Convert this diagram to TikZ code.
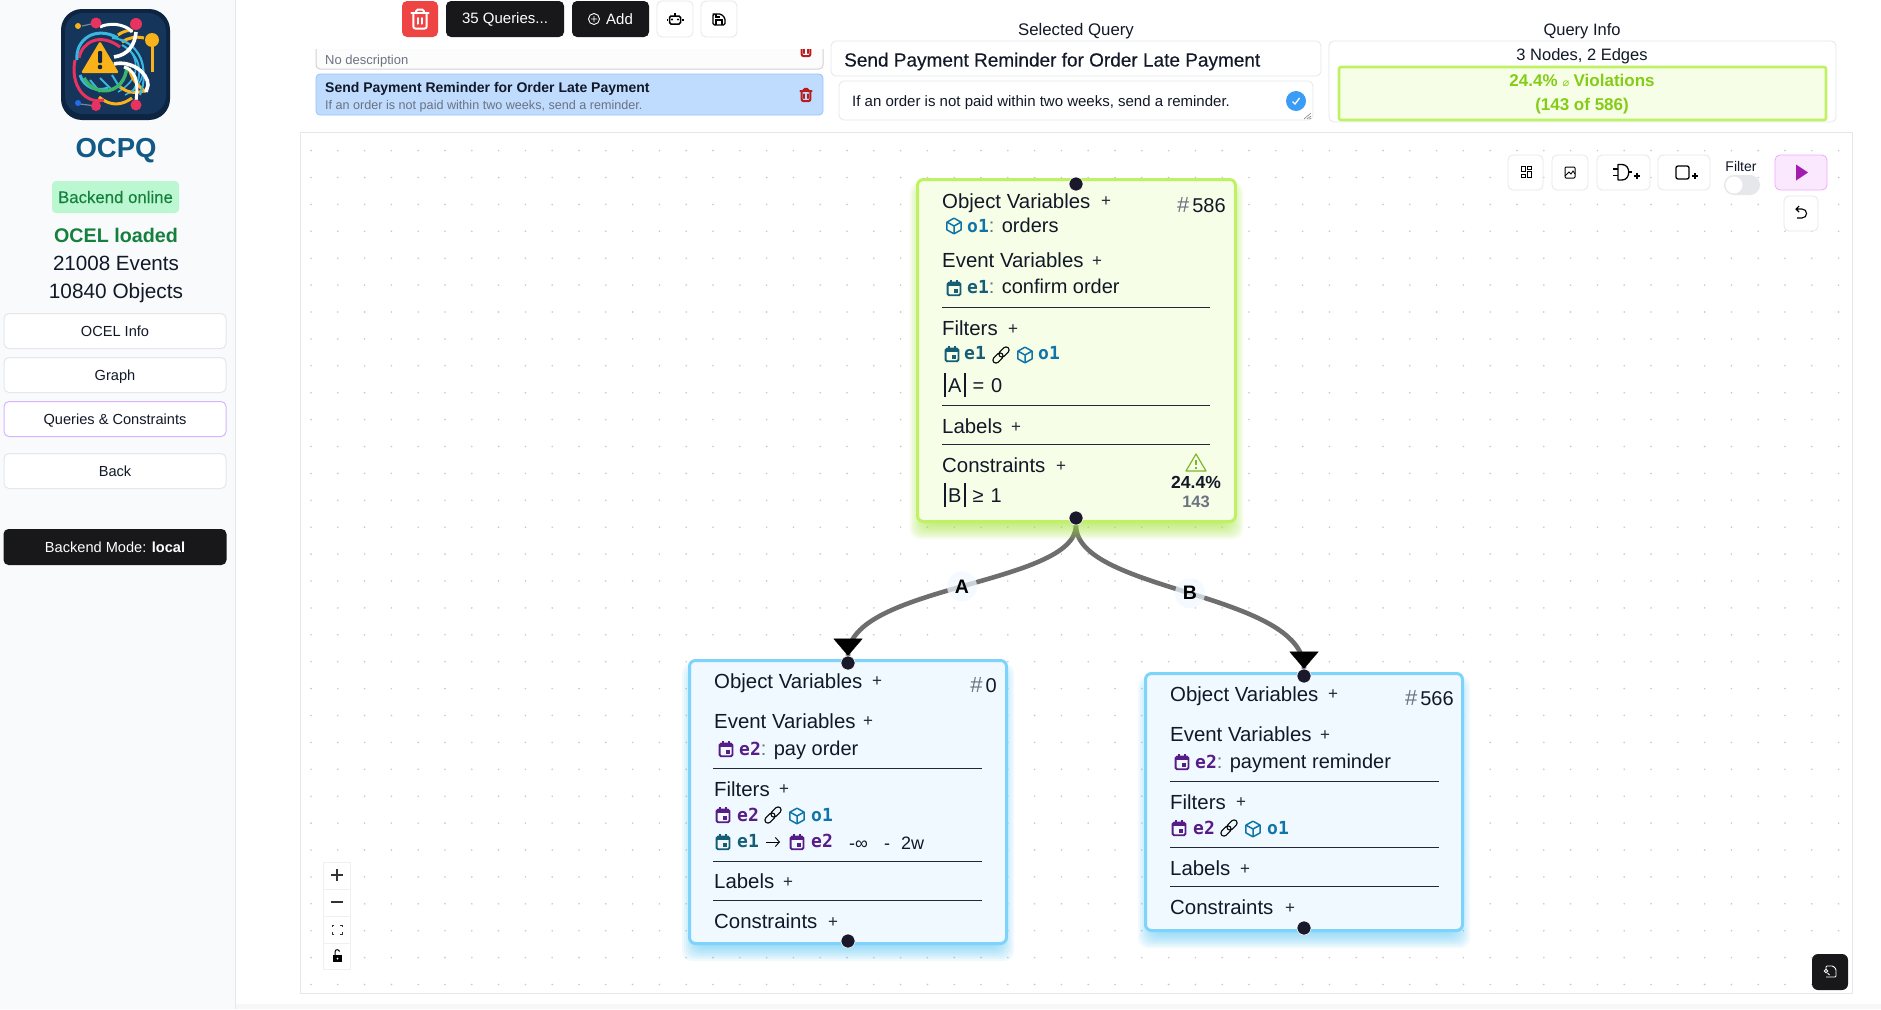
\documentclass[tikz,border=0pt]{standalone}
\usepackage{fontspec}
\setmainfont{Liberation Sans}
\newfontfamily\monof{DejaVu Sans Mono}
\newfontfamily\dejav{DejaVu Sans}
\newfontfamily\medf{Liberation Sans}[FakeBold=0.25]
\usetikzlibrary{arrows.meta}
\definecolor{ink}{HTML}{111827}
\definecolor{sidebg}{HTML}{F8FAFC}
\definecolor{rulec}{HTML}{E5E7EB}
\definecolor{dark}{HTML}{18181B}
\definecolor{greenT}{HTML}{15803D}
\definecolor{greenB}{HTML}{BBF7D0}
\definecolor{limeB}{HTML}{BEF264}
\definecolor{limeS}{HTML}{A3E635}
\definecolor{limeF}{HTML}{F7FEE7}
\definecolor{limeT}{HTML}{84CC16}
\definecolor{skyB}{HTML}{7DD3FC}
\definecolor{skyF}{HTML}{F0F9FF}
\definecolor{skyS}{HTML}{38BDF8}
\definecolor{oC}{HTML}{0F75A8}
\definecolor{eA}{HTML}{155E75}
\definecolor{eB}{HTML}{581C87}
\definecolor{handlec}{HTML}{1A192B}
\definecolor{edgec}{HTML}{6E6E6E}
\definecolor{grayT}{HTML}{6B7280}
\definecolor{sepc}{HTML}{1F2937}
\definecolor{dotc}{HTML}{C8C8C8}
\definecolor{navy}{HTML}{15365A}
\definecolor{navyD}{HTML}{0D2540}
\definecolor{pinkL}{HTML}{E8325F}
\definecolor{goldL}{HTML}{F9B21A}
\definecolor{cyanL}{HTML}{3BB6E0}
\definecolor{greenL}{HTML}{3BB56C}
\definecolor{selF}{HTML}{BFDBFE}
\definecolor{selB}{HTML}{93C5FD}
\definecolor{purB}{HTML}{D8B4FE}
\definecolor{playF}{HTML}{FAE8FF}
\definecolor{playB}{HTML}{F0ABFC}
\definecolor{playC}{HTML}{A21CAF}
\definecolor{redB}{HTML}{EF4444}
\definecolor{redT}{HTML}{B91C1C}
\definecolor{chkC}{HTML}{3B9CF5}
\newcommand\fsz[1]{\fontsize{#1}{#1}\selectfont}
\newcommand\bbar{\rule[-5pt]{1.5pt}{24pt}}
\newcommand\mv[2]{{\fsz{18}\monof\bfseries\color{#1}#2}}
\newcommand\hashn{{\fsz{22}\color{grayT}\#}\hspace{3pt}}
\pgfdeclarelayer{gridl}\pgfdeclarelayer{edgel}\pgfdeclarelayer{shadl}
\pgfsetlayers{gridl,edgel,shadl,main}
\tikzset{
  tl/.style={inner sep=0,anchor=base west,text=ink},
  tc/.style={inner sep=0,anchor=base,text=ink},
  hd/.style={tl,font=\fsz{20.4}},
  itm/.style={tl,font=\fsz{20}},
  mono/.style={tl,font=\fsz{18}},
  plusn/.style={inner sep=0,anchor=center,text=sepc,font=\fsz{17}},
  sidebtn/.style={draw=rulec,line width=1pt,fill=white,rounded corners=5pt,minimum width=222pt,minimum height=35pt,inner sep=0,font=\fsz{14.6},text=ink,text height=10.5pt,text depth=0pt},
  darkbtn/.style={fill=dark,rounded corners=5pt,inner sep=0,text=white,font=\fsz{15}},
  lightbtn/.style={draw=rulec,line width=.8pt,fill=white,rounded corners=5pt,inner sep=0},
  handle/.style={circle,fill=handlec,draw=white,line width=.6pt,minimum size=14pt,inner sep=0},
  limebox/.style={draw=limeB,line width=3pt,fill=limeF,rounded corners=6pt,minimum width=318pt,inner sep=0},
  skybox/.style={draw=skyB,line width=3pt,fill=skyF,rounded corners=6pt,minimum width=317pt,inner sep=0},
  sep/.style={draw=sepc,line width=.9pt},
  edgeline/.style={draw=edgec,line width=4.6pt},
  edgetip/.style={draw=black,line width=.1pt,-{Triangle[width=29pt,length=17pt,color=black]}},
  edgelabel/.style={circle,fill=skyF,fill opacity=.72,text opacity=1,inner sep=0,minimum size=30pt,text=black,font=\fsz{19.5}\bfseries},
  pics/cube/.style={code={\begin{scope}[shift={(-12,-12)}]
    \draw[#1,line width=1.5pt,line join=round] (12,2)--(21,7)--(21,17)--(12,22)--(3,17)--(3,7)--cycle;
    \draw[#1,line width=1.5pt,line join=round] (3,7)--(12,12)--(21,7) (12,12)--(12,22);\end{scope}}},
  pics/cal/.style={code={\begin{scope}[shift={(-12,-12)}]
    \draw[#1,line width=1.9pt,rounded corners=1.5pt] (3.5,5)rectangle(20.5,21.5);
    \fill[#1] (3.5,5)rectangle(20.5,9.5);
    \draw[#1,line width=1.9pt] (7.5,1.5)--(7.5,5) (16.5,1.5)--(16.5,5);
    \fill[#1] (12.5,13.5)rectangle(17.5,18);\end{scope}}},
  pics/linkic/.style={code={
    \draw[black,line width=1.1pt,rounded corners=3pt,rotate around={45:(0,0)}] (-12,-3.6)rectangle(2,3.6);
    \draw[black,line width=1.1pt,rounded corners=3pt,rotate around={45:(0,0)}] (-2,-3.6)rectangle(12,3.6);}},
  pics/trash/.style={code={
    \draw[#1,line width=2pt,line cap=round,line join=round] (-9,-6)--(9,-6);
    \draw[#1,line width=2pt,line cap=round,rounded corners=2pt] (-7,-6)--(-7,10)--(7,10)--(7,-6);
    \draw[#1,line width=2pt,line cap=round,rounded corners=1.5pt] (-4,-6)--(-4,-10)--(4,-10)--(4,-6);
    \draw[#1,line width=2pt,line cap=round] (-2.5,-1)--(-2.5,5) (2.5,-1)--(2.5,5);}},
}
\begin{document}
\begin{tikzpicture}[x=1pt,y=-1pt]
\useasboundingbox (0,0) rectangle (1881,1009);
\begin{pgfonlayer}{gridl}
\fill[white] (0,0) rectangle (1881,1009);
\foreach \i in {0,...,57}{\foreach \j in {0,...,31}{
  \fill[dotc] ({311+26.8*\i},{850-26.9*\j+26.9*5}) circle (.9);
}}
\fill[white] (300,994) rectangle (1881,1003) (1853,130) rectangle (1881,1000) (236,122) rectangle (1881,131);
\fill[gray!6] (236,1004) rectangle (1881,1009);
\end{pgfonlayer}
\fill[sidebg] (0,0) rectangle (235,1009);
\draw[rulec,line width=1pt] (235,0)--(235,1009);

% ---------- logo
\fill[navyD] (61,9) [rounded corners=21pt] rectangle (170,120);
\fill[navy] (65,13) [rounded corners=18pt] rectangle (166,114);
\begin{scope}
  \clip (72,18) rectangle (160,112);
  \draw[cyanL,line width=1.5pt] (120,40) .. controls (150,50) and (150,85) .. (125,95);
  \draw[cyanL,line width=1.5pt] (130,50) .. controls (140,65) and (138,80) .. (118,92);
  \draw[goldL,line width=3pt] (99,97) .. controls (112,108) and (124,104) .. (132,98);
  \draw[goldL,line width=3pt] (118,35) .. controls (125,30) and (130,30) .. (133,31);
  \draw[goldL,line width=3pt] (122,42) .. controls (128,38) and (135,36) .. (144,38);
  \draw[goldL,line width=3pt] (118,85) .. controls (125,92) and (135,95) .. (146,90);
  \draw[goldL,line width=3pt] (129,68) .. controls (132,80) and (138,86) .. (146,92);
  \draw[goldL,line width=3pt] (152,42)--(152,72);
  \draw[cyanL,line width=2pt] (112,38) .. controls (140,40) and (150,70) .. (140,95);
  \draw[cyanL,line width=2pt] (122,45) .. controls (140,55) and (145,75) .. (132,92);
  \draw[cyanL,line width=2pt] (90,80) -- (100,92) (100,78)--(112,90) (112,75)--(120,88);
  \draw[pinkL,line width=3pt] (75,60) .. controls (70,85) and (85,105) .. (104,100);
  \draw[pinkL,line width=3pt] (79,58) .. controls (82,42) and (100,32) .. (120,47);
  \draw[cyanL,line width=3pt] (77,60) .. controls (75,40) and (95,25) .. (118,38);
  \draw[cyanL,line width=3pt] (80,75) .. controls (84,88) and (98,92) .. (108,88);
  \draw[greenL,line width=3.4pt] (84,78) .. controls (95,98) and (125,95) .. (127,66);
  \draw[white,line width=3pt] (100,27) .. controls (115,20) and (130,28) .. (132,32);
  \draw[white,line width=3.6pt] (114,57) .. controls (128,55) and (135,45) .. (136,32);
  \draw[white,line width=3.6pt] (114,64) .. controls (130,60) and (148,72) .. (148,85) -- (146,92);
  \draw[white,line width=3pt] (124,67) .. controls (140,72) and (137,90) .. (136,102);
\end{scope}
\fill[goldL,rounded corners=1.5pt] (81,73)--(119,73)--(100,41)--cycle;
\fill[navyD,rounded corners=1pt] (98,51) rectangle (102,63);
\fill[navyD] (100,67) circle (2.3);
\draw[navy!60!white,line width=1.2pt] (82,26)--(96,23) (80,104)--(96,106);
\fill[pinkL] (96,23) circle (5.5) (136,24) circle (6) (96,106) circle (5) (136,105) circle (5.5);
\fill[goldL] (78,26) circle (3) (152,40) circle (7);
\fill[cyanL!60!blue] (78,103) circle (3);

% ---------- sidebar
\node[inner sep=0,anchor=base,text=oC!55!navy,font=\fsz{27.5}\bfseries] (title) at (116,157) {OCPQ};
\node[fill=greenB,rounded corners=4pt,inner sep=0,minimum width=127pt,minimum height=32pt,text=greenT,font=\medf\fsz{16.8}] (online) at (115.5,197) {Backend online};
\node[tc,font=\fsz{19.7}\bfseries,text=greenT] (loaded) at (116,242) {OCEL loaded};
\node[tc,font=\fsz{20.6}] (events) at (116,270) {21008 Events};
\node[tc,font=\fsz{20.8}] (objects) at (116,298) {10840 Objects};
\node[sidebtn] (b1) at (115,331) {OCEL Info};
\node[sidebtn] (b2) at (115,375) {Graph};
\node[sidebtn,draw=purB] (b3) at (115,419) {Queries \& Constraints};
\node[sidebtn] (b4) at (115,471) {Back};
\node[darkbtn,minimum width=223pt,minimum height=36pt,font=\fsz{14.6}] (b5) at (115,547) {Backend Mode: \textbf{local}};

% ---------- top bar
\node[fill=redB,rounded corners=5pt,minimum width=36pt,minimum height=36pt,inner sep=0] (tdel) at (420,19) {};
\pic[scale=.95] at (tdel.center) {trash=white};
\node[darkbtn,minimum width=118pt,minimum height=36pt] (tq) at (505,19) {35 Queries...};
\node[darkbtn,minimum width=77pt,minimum height=36pt] (tadd) at (610.5,19) {\hspace*{18pt}Add};
\draw[white,line width=.9pt] (594,19) circle (5.5) (591,19)--(597,19) (594,16)--(594,22);
\node[lightbtn,minimum width=36pt,minimum height=36pt] (trob) at (675,19) {};
\draw[black,line width=1.5pt,rounded corners=1.5pt] (669.5,16) rectangle (680.5,24);
\draw[black,line width=1.3pt] (675,16)--(675,13) (668,20)--(666.5,20) (682,20)--(683.5,20);
\fill[black] (672,19.5) circle (1.1) (678,19.5) circle (1.1);
\node[lightbtn,minimum width=36pt,minimum height=36pt] (tsave) at (719,19) {};
\draw[black,line width=1.3pt,rounded corners=1.5pt] (714,14)--(721,14)--(725,18)--(725,25)--(713,25)--(713,14)--cycle;
\draw[black,line width=1.3pt] (716,25)--(716,20)--(722,20)--(722,25) (716,14)--(716,17)--(720,17);

% query list
\begin{scope}
\clip (300,49) rectangle (830,120);
\node[draw=gray!35,line width=1pt,fill=gray!2,rounded corners=4pt,minimum width=507pt,minimum height=40pt,inner sep=0] (q1) at (569.5,49) {};
\pic[scale=.62] at (806,50) {trash=redT};
\end{scope}
\node[tl,font=\fsz{13},text=grayT] (q1d) at (325,64) {No description};
\node[draw=selB,line width=.8pt,fill=selF,rounded corners=4pt,minimum width=507pt,minimum height=41pt,inner sep=0] (q2) at (569.5,94.5) {};
\node[tl,font=\fsz{14}\bfseries] (q2t) at (325,92) {Send Payment Reminder for Order Late Payment};
\node[tl,font=\fsz{12.6},text=grayT] (q2d) at (325,109.5) {If an order is not paid within two weeks, send a reminder.};
\pic[scale=.62] at (806,95) {trash=redT};

% selected query
\node[tc,font=\fsz{16.8}] (sq) at (1076,35) {Selected Query};
\node[draw=rulec,line width=.8pt,fill=white,rounded corners=5pt,minimum width=490pt,minimum height=35pt,inner sep=0] (sqt) at (1076,58.5) {};
\node[tl,font=\medf\fsz{19}] (sqtt) at (844,66.5) {Send Payment Reminder for Order Late Payment};
\node[draw=rulec,line width=.8pt,fill=white,rounded corners=5pt,minimum width=474pt,minimum height=39pt,inner sep=0] (sqd) at (1076,100.5) {};
\node[tl,font=\fsz{15}] (sqdt) at (852,106) {If an order is not paid within two weeks, send a reminder.};
\node[circle,fill=chkC,minimum size=20pt,inner sep=0] (chk) at (1296,101) {};
\draw[white,line width=1.3pt] (1292.5,101.5)--(1295,104)--(1299.5,98);
\draw[gray,line width=.6pt] (1304,119)--(1311,113) (1307,119)--(1311,116) (1309.5,119)--(1311,118);

% query info
\node[tc,font=\fsz{16.5}] (qi) at (1582,35) {Query Info};
\node[draw=rulec,line width=.8pt,fill=white,rounded corners=5pt,minimum width=507pt,minimum height=81pt,inner sep=0] (qib) at (1582.5,81.5) {};
\node[tc,font=\fsz{16.5}] (qin) at (1582,60) {3 Nodes, 2 Edges};
\node[draw=limeB,line width=2.6pt,fill=limeF,rounded corners=2pt,minimum width=487pt,minimum height=53pt,inner sep=0] (qiv) at (1582.5,93.5) {};
\node[tc,font=\fsz{17}\bfseries,text=limeT] (qiv1) at (1582,86) {24.4\% {\dejav\mdseries\fsz{11}\itshape ⌀} Violations};
\node[tc,font=\fsz{17}\bfseries,text=limeT] (qiv2) at (1582,110) {(143 of 586)};

% ---------- canvas
\draw[rulec,line width=1pt] (300,132)--(1852,132) (300,132)--(300,993)--(1852,993)--(1852,132);

% toolbar
\node[lightbtn,minimum width=35pt,minimum height=35pt] (tb1) at (1525.5,172.5) {};
\draw[black,line width=1pt] (1521,166) rectangle (1525,171) (1527,166) rectangle (1531,169) (1521,174) rectangle (1525,177) (1527,171.5) rectangle (1531,177);
\node[lightbtn,minimum width=36pt,minimum height=35pt] (tb2) at (1570,172.5) {};
\draw[black,line width=1pt,rounded corners=1pt] (1565,167) rectangle (1575,178);
\draw[black,line width=.8pt] (1565,176)--(1569,172)--(1571,174)--(1573,171)--(1575,174);
\node[lightbtn,minimum width=53pt,minimum height=35pt] (tb3) at (1623.5,172.5) {};
\draw[black,line width=1.3pt,line join=round] (1618,164.5)--(1622,164.5) .. controls (1631,164.5) and (1631,180) .. (1622,180)--(1618,180)--cycle;
\draw[black,line width=1.3pt] (1613,169)--(1618,169) (1613,175.5)--(1618,175.5) (1628.5,172)--(1632,172);
\draw[black,line width=1.2pt] (1634,176)--(1640,176) (1637,173)--(1637,179);
\node[lightbtn,minimum width=52pt,minimum height=35pt] (tb4) at (1684,172.5) {};
\draw[black,line width=1.3pt,rounded corners=2pt] (1676,166) rectangle (1689,179);
\draw[black,line width=1.2pt] (1692,176)--(1698,176) (1695,173)--(1695,179);
\node[tc,font=\fsz{14}] (filt) at (1741,171) {Filter};
\node[fill=rulec,rounded corners=10pt,minimum width=36pt,minimum height=20pt,inner sep=0] (tog) at (1742,185) {};
\node[circle,fill=white,minimum size=17pt,inner sep=0] (togk) at (1734,185) {};
\node[draw=playB,line width=.8pt,fill=playF,rounded corners=5pt,minimum width=52pt,minimum height=35pt,inner sep=0] (play) at (1801,172.5) {};
\fill[playC] (1796,164.5)--(1808,172.5)--(1796,180.5)--cycle;
\node[lightbtn,minimum width=34pt,minimum height=35pt] (undo) at (1801,213.5) {};
\draw[black,line width=1.1pt] (1799,206)--(1796,209)--(1799,212) (1796,209)--(1802,209) .. controls (1808,209) and (1808,218) .. (1802,218)--(1797,218);

% zoom controls
\node[draw=gray!12,line width=.7pt,fill=white,minimum width=27pt,minimum height=107pt,inner sep=0] (zc) at (336.5,915.5) {};
\draw[gray!12,line width=.7pt] (323,889)--(350,889) (323,916)--(350,916) (323,943)--(350,943);
\draw[black!80,line width=1.2pt] (331,875)--(343,875) (337,869)--(337,881) (331,902)--(343,902);
\draw[black!80,line width=1pt] (332,927)--(332,925)--(334,925) (340,925)--(342,925)--(342,927) (342,932)--(342,934)--(340,934) (334,934)--(332,934)--(332,932);
\fill[black] (333,955) rectangle (342,962);
\draw[black,line width=1pt] (335,955)--(335,952) .. controls (335,949) and (339,949) .. (339.5,951.5);
\fill[white] (337.5,958.5) circle (1);
\node[fill=dark,rounded corners=6pt,minimum width=36pt,minimum height=36pt,inner sep=0] (dl) at (1830,972) {};
\draw[white,line width=.9pt,rounded corners=1pt] (1826,969)--(1826,966)--(1833,966)--(1836,969)--(1836,977)--(1826,977);
\draw[white,line width=.9pt] (1826,971) circle (1.8) (1827.5,973)--(1829.5,975);

% ---------- nodes
\node[limebox,minimum height=342pt] (n1) at (1076.5,350.5) {};
\node[skybox,minimum height=283pt] (n2) at (848,802) {};
\node[skybox,minimum height=257pt] (n3) at (1304,802) {};
\begin{pgfonlayer}{shadl}
\foreach \r in {9,7,...,-9}{
  \fill[limeS,opacity=.1,rounded corners=10pt] ({916+3-\r},{178+13-\r}) rectangle ({1237-3+\r},{523+7+\r});
  \fill[skyS,opacity=.075,rounded corners=10pt] ({688+3-\r},{659+13-\r}) rectangle ({1008-3+\r},{945+7+\r});
  \fill[skyS,opacity=.075,rounded corners=10pt] ({1144+3-\r},{672+13-\r}) rectangle ({1464-3+\r},{932+7+\r});
}
\end{pgfonlayer}
\node[handle] (n1t) at (1076,184) {};
\node[handle] (n1b) at (1076,518) {};
\node[handle] (n2t) at (848,663) {};
\node[handle] (n2b) at (848,941) {};
\node[handle] (n3t) at (1304,676) {};
\node[handle] (n3b) at (1304,928) {};

% edges
\begin{pgfonlayer}{edgel}
\path[edgeline] (n1b.south) .. controls (1076,585) and (848,585) .. (n2t.north) node[pos=.5,edgelabel] (la) {A};
\path[edgeline] (n1b.south) .. controls (1076,592) and (1304,592) .. (n3t.north) node[pos=.5,edgelabel] (lb) {B};
\path[edgetip] ([yshift=17.2pt]n2t.north) -- (n2t.north);
\path[edgetip] ([yshift=17.2pt]n3t.north) -- (n3t.north);
\end{pgfonlayer}

% node 1
\node[hd] (a1) at (942,208) {Object Variables};
\node[plusn] (a1p) at (1106,202) {+};
\node[tl,font=\fsz{20},text=ink] (a1h) at (1225,212) {\hbox to 0pt{\hss\hashn 586}};
\pic[scale=.78] at (954,226) {cube=oC};
\node[itm] (a2) at (967,232) {\mv{oC}{o1}{\color{grayT}:} orders};
\node[hd] (a3) at (942,267) {Event Variables};
\node[plusn] (a3p) at (1097,262) {+};
\pic[scale=.76] at (954,288) {cal=eA};
\node[itm] (a4) at (967,293) {\mv{eA}{e1}{\color{grayT}:} confirm order};
\draw[sep] (942,307)--(1210,307);
\node[hd] (a5) at (942,335) {Filters};
\node[plusn] (a5p) at (1013,330) {+};
\pic[scale=.76] at (952,354) {cal=eA};
\node[mono] (a6) at (964,359) {\mv{eA}{e1}};
\pic[scale=.85] at (1001,355) {linkic};
\pic[scale=.78] at (1025,355) {cube=oC};
\node[mono] (a7) at (1038,359) {\mv{oC}{o1}};
\node[itm] (a8) at (944,392) {\bbar\hspace{2.5pt}A\hspace{2.5pt}\bbar\hspace{7pt}=\hspace{7pt}0};
\draw[sep] (942,405)--(1210,405);
\node[hd] (a9) at (942,433) {Labels};
\node[plusn] (a9p) at (1016,428) {+};
\draw[sep] (942,444)--(1210,444);
\node[hd] (a10) at (942,472) {Constraints};
\node[plusn] (a10p) at (1061,467) {+};
\node[itm] (a11) at (944,502) {\bbar\hspace{2.5pt}B\hspace{2.5pt}\bbar\hspace{7pt}≥\hspace{7pt}1};
\draw[limeT!85!black!90!white,line width=1.2pt,line join=round] (1196,454)--(1206,471)--(1186,471)--cycle;
\draw[limeT!85!black!90!white,line width=1.1pt] (1196,460)--(1196,465) (1196,467)--(1196,468.5);
\node[tc,font=\fsz{17.5}\bfseries] (a12) at (1196,488) {24.4\%};
\node[tc,font=\fsz{16.5}\bfseries,text=grayT] (a13) at (1196,507) {143};

% node 2
\node[hd] (b1t) at (714,688) {Object Variables};
\node[plusn] (b1p) at (877,682) {+};
\node[tl,font=\fsz{20}] (b1h) at (996,692) {\hbox to 0pt{\hss\hashn 0}};
\node[hd] (b2t) at (714,728) {Event Variables};
\node[plusn] (b2p) at (868,722) {+};
\pic[scale=.76] at (726,749) {cal=eB};
\node[itm] (b3t) at (739,755) {\mv{eB}{e2}{\color{grayT}:} pay order};
\draw[sep] (713,768)--(982,768);
\node[hd] (b4t) at (714,796) {Filters};
\node[plusn] (b4p) at (784,790) {+};
\pic[scale=.76] at (723,815) {cal=eB};
\node[mono] (b5t) at (737,821) {\mv{eB}{e2}};
\pic[scale=.85] at (773,815) {linkic};
\pic[scale=.78] at (797,816) {cube=oC};
\node[mono] (b6t) at (811,821) {\mv{oC}{o1}};
\pic[scale=.76] at (723,842) {cal=eA};
\node[mono] (b7t) at (737,847) {\mv{eA}{e1}};
\node[inner sep=0] (b7a) at (773,842) {};
\draw[black,line width=.9pt,-{Straight Barb[length=4pt,width=9pt]}] (766,842)--(780,842);
\pic[scale=.76] at (797,842) {cal=eB};
\node[mono] (b8t) at (811,847) {\mv{eB}{e2}};
\node[tl,font=\fsz{18}] (b9t) at (849,849) {-∞};
\node[tl,font=\fsz{18}] (b10t) at (884,849) {-};
\node[tl,font=\fsz{18}] (b11t) at (901,849) {2w};
\draw[sep] (713,861)--(982,861);
\node[hd] (b12t) at (714,888) {Labels};
\node[plusn] (b12p) at (788,883) {+};
\draw[sep] (713,900)--(982,900);
\node[hd] (b13t) at (714,928) {Constraints};
\node[plusn] (b13p) at (833,923) {+};

% node 3
\node[hd] (c1t) at (1170,701) {Object Variables};
\node[plusn] (c1p) at (1333,695) {+};
\node[tl,font=\fsz{20}] (c1h) at (1453,705) {\hbox to 0pt{\hss\hashn 566}};
\node[hd] (c2t) at (1170,741) {Event Variables};
\node[plusn] (c2p) at (1325,736) {+};
\pic[scale=.76] at (1182,762) {cal=eB};
\node[itm] (c3t) at (1195,768) {\mv{eB}{e2}{\color{grayT}:} payment reminder};
\draw[sep] (1170,781)--(1439,781);
\node[hd] (c4t) at (1170,809) {Filters};
\node[plusn] (c4p) at (1241,803) {+};
\pic[scale=.76] at (1179,828) {cal=eB};
\node[mono] (c5t) at (1193,834) {\mv{eB}{e2}};
\pic[scale=.85] at (1229,828) {linkic};
\pic[scale=.78] at (1253,829) {cube=oC};
\node[mono] (c6t) at (1267,834) {\mv{oC}{o1}};
\draw[sep] (1170,847)--(1439,847);
\node[hd] (c7t) at (1170,875) {Labels};
\node[plusn] (c7p) at (1245,870) {+};
\draw[sep] (1170,886)--(1439,886);
\node[hd] (c8t) at (1170,914) {Constraints};
\node[plusn] (c8p) at (1290,909) {+};
\end{tikzpicture}
\end{document}
